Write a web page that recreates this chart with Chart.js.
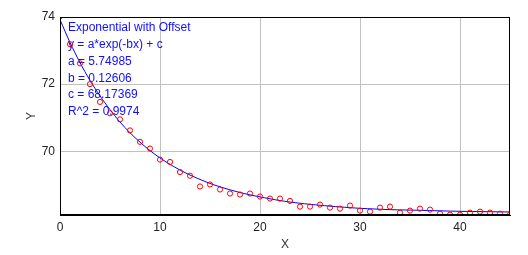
<!DOCTYPE html>
<html>
<head>
<meta charset="UTF-8">
<title>Exponential with Offset</title>
<style>
    body {
        margin: 0;
        background: #fff;
    }
    #chartContainer {
        width: 528px;
        height: 255px;
    }
</style>
<script src="https://cdn.jsdelivr.net/npm/chart.js"></script>
</head>
<body>

<div id="chartContainer">
    <canvas id="fitChart" width="528" height="255"></canvas>
</div>

<script>
let xValues = [0, 1, 2, 3, 4, 5, 6, 7, 8, 9, 10, 11, 12, 13, 14, 15, 16, 17, 18, 19, 20, 21, 22,
    23, 24, 25, 26, 27, 28, 29, 30, 31, 32, 33, 34, 35, 36, 37, 38, 39, 40, 41, 42, 43, 44, 45];
let yValues = [74.02, 73.19, 72.62, 72.0, 71.47, 71.13, 70.95, 70.62, 70.28, 70.08, 69.75, 69.68,
    69.38, 69.27, 68.95, 69.01, 68.86, 68.74, 68.71, 68.74, 68.65, 68.59, 68.59, 68.52, 68.35,
    68.35, 68.41, 68.32, 68.29, 68.38, 68.23, 68.20, 68.32, 68.35, 68.17, 68.23, 68.29, 68.26,
    68.14, 68.11, 68.11, 68.17, 68.20, 68.17, 68.14, 68.11];

// fitted curve as drawn
let curveX = [0, 1, 2, 3, 4, 5, 6, 7, 8, 9, 10, 11, 12, 13, 14, 15, 16, 17, 18, 19, 20,
    22, 24, 26, 28, 30, 33, 36, 40, 45];
let curveY = [73.92, 73.24, 72.64, 72.11, 71.65, 71.24, 70.87, 70.55, 70.27, 70.02, 69.80,
    69.61, 69.44, 69.29, 69.16, 69.04, 68.94, 68.85, 68.77, 68.70, 68.64, 68.53, 68.45,
    68.39, 68.34, 68.30, 68.26, 68.24, 68.21, 68.19];

let xTicks = [0, 10, 20, 30, 40];
let yTicks = [70, 72, 74];

let fitText = [
    'Exponential with Offset',
    'y = a*exp(-bx) + c',
    'a = 5.74985',
    'b = 0.12606',
    'c = 68.17369',
    'R^2 = 0.9974'
];

const fontFamily = "'Liberation Sans', Arial, sans-serif";

const fitLabel = {
    id: 'fitLabel',
    beforeDatasetsDraw(chart) {
        const ctx = chart.ctx;
        ctx.save();
        ctx.font = '12px ' + fontFamily;
        ctx.fillStyle = '#1010ff';
        ctx.textBaseline = 'middle';
        ctx.textAlign = 'left';
        fitText.forEach((line, i) => {
            ctx.fillText(line, 68, 27.5 + i * 16.9);
        });
        ctx.restore();
    },
    afterDraw(chart) {
        const a = chart.chartArea;
        const ctx = chart.ctx;
        ctx.save();
        ctx.strokeStyle = '#000';
        ctx.lineWidth = 1;
        ctx.strokeRect(a.left + 0.5, a.top + 0.5, a.right - a.left - 1, a.bottom - a.top - 1);
        ctx.restore();
    }
};

const points = xValues.map((x, i) => ({x: x, y: yValues[i]}));
const curve = curveX.map((x, i) => ({x: x, y: curveY[i]}));

const ctx = document.getElementById('fitChart').getContext('2d');
const fitChart = new Chart(ctx, {
    type: 'scatter',
    data: {
        datasets: [{
            type: 'line',
            data: curve,
            borderColor: '#0000ff',
            borderWidth: 1,
            pointRadius: 0,
            tension: 0.3,
            clip: 0,
            order: 2
        }, {
            data: points,
            borderColor: '#ff0000',
            backgroundColor: 'rgba(0,0,0,0)',
            borderWidth: 1,
            pointRadius: 2.6,
            clip: 0,
            order: 1
        }]
    },
    options: {
        responsive: false,
        animation: false,
        devicePixelRatio: 1,
        layout: {
            padding: {left: 20, right: 18, top: 17, bottom: 0}
        },
        plugins: {
            legend: {display: false},
            tooltip: {enabled: false}
        },
        scales: {
            x: {
                type: 'linear',
                min: 0,
                max: 45,
                afterBuildTicks: s => { s.ticks = xTicks.map(v => ({value: v})); },
                afterFit: s => { s.height = 40; },
                grid: {color: '#c0c0c0', drawTicks: false},
                border: {color: '#000', width: 1},
                ticks: {
                    color: '#222',
                    padding: 5,
                    maxRotation: 0,
                    font: {family: fontFamily, size: 12}
                },
                title: {
                    display: true,
                    text: 'X',
                    color: '#333',
                    padding: {top: 0, bottom: 3},
                    font: {family: fontFamily, size: 12}
                }
            },
            y: {
                type: 'linear',
                min: 68.1,
                max: 74,
                afterBuildTicks: s => { s.ticks = yTicks.map(v => ({value: v})); },
                afterFit: s => { s.width = 40; },
                grid: {color: '#c0c0c0', drawTicks: false},
                border: {color: '#000', width: 1},
                ticks: {
                    color: '#222',
                    padding: 5,
                    font: {family: fontFamily, size: 12}
                },
                title: {
                    display: true,
                    text: 'Y',
                    color: '#333',
                    padding: {top: 4, bottom: 0},
                    font: {family: fontFamily, size: 12}
                }
            }
        }
    },
    plugins: [fitLabel]
});
</script>

</body>
</html>
